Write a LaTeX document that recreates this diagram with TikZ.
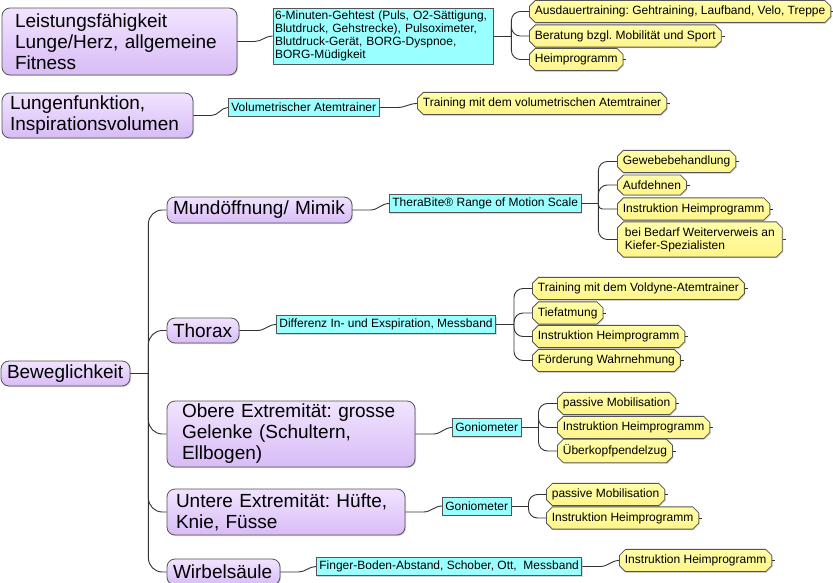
\documentclass[tikz,border=0pt]{standalone}
\usepackage{fontspec}
\setmainfont{Liberation Sans}
\frenchspacing
\usetikzlibrary{shapes.misc,shadows,calc}
\definecolor{pfillT}{HTML}{F1E4FF}
\definecolor{pfillB}{HTML}{D8BCF6}
\definecolor{cfill}{HTML}{99FFFF}
\definecolor{yfillT}{HTML}{FFFFA8}
\definecolor{yfillB}{HTML}{FFF48A}
\definecolor{edge}{HTML}{555555}
\definecolor{lnk}{HTML}{333333}
\begin{document}
\begin{tikzpicture}[x=1pt,y=-1pt,
  pbox/.style={draw=edge, rounded corners=8pt, top color=pfillT, bottom color=pfillB,
    line width=0.8pt, font=\fontsize{19}{21}\selectfont, align=left, inner ysep=2pt,
    drop shadow={shadow xshift=1pt,shadow yshift=-1pt,fill=black!40,opacity=0.4}},
  cbox/.style={draw=edge, fill=cfill, line width=0.8pt, font=\fontsize{12}{13}\selectfont,
    inner xsep=3pt, inner ysep=2pt, minimum height=18pt, anchor=west,
    drop shadow={shadow xshift=1pt,shadow yshift=-1pt,fill=black!40,opacity=0.4}},
  ybox/.style={draw=edge, chamfered rectangle, chamfered rectangle xsep=2.5pt,
    top color=yfillT, bottom color=yfillB, line width=0.8pt,
    font=\fontsize{12}{13}\selectfont, inner xsep=3pt, inner ysep=2pt,
    minimum height=17pt, anchor=west, align=left,
    drop shadow={shadow xshift=1pt,shadow yshift=-1pt,fill=black!40,opacity=0.4}},
  conn/.style={draw=lnk, line width=0.9pt},
  branch/.style={conn, rounded corners=9pt},
  trunk/.style={conn, rounded corners=14pt}]
\fill[white] (0,0) rectangle (833,583);
\clip (0,0) rectangle (833,583);
\useasboundingbox (0,0) rectangle (833,583);

% main topics
\node[pbox, text width=209pt, inner xsep=13pt, minimum height=67pt] (P1) at (119.5,41.5)
  {Leistungsfähigkeit\\Lunge/Herz, allgemeine\\Fitness};
\node[pbox, text width=175pt, inner xsep=8pt, minimum height=45pt] (P2) at (97.5,115.5)
  {Lungenfunktion,\\Inspirationsvolumen};
\node[pbox, text width=117pt, inner xsep=6pt, minimum height=25pt] (P3) at (65.5,373.5)
  {Beweglichkeit};
\node[pbox, text width=173pt, inner xsep=6pt, minimum height=26pt] (P4) at (259.5,210)
  {Mundöffnung/ Mimik};
\node[pbox, text width=60pt, inner xsep=6pt, minimum height=25pt] (P5) at (203,330.5)
  {Thorax};
\node[pbox, text width=218pt, inner xsep=15pt, minimum height=66pt] (P6) at (291,434)
  {Obere Extremität: grosse\\Gelenke (Schultern,\\Ellbogen)};
\node[pbox, text width=220pt, inner xsep=9pt, minimum height=46pt] (P7) at (286,512)
  {Untere Extremität: Hüfte,\\Knie, Füsse};
\node[pbox, text width=101pt, inner xsep=6pt, minimum height=26pt, inner ysep=1pt] (P8) at (223.5,572)
  {Wirbelsäule};

% measurements
\node[cbox, anchor=center, text width=216pt, inner xsep=2pt, align=left, minimum height=56pt] (C1) at (383,36)
  {6-Minuten-Gehtest (Puls, O2-Sättigung,\\Blutdruck, Gehstrecke), Pulsoximeter,\\Blutdruck-Gerät, BORG-Dyspnoe,\\BORG-Müdigkeit};
\node[cbox] (C2) at (228,107.5) {Volumetrischer Atemtrainer};
\node[cbox] (C3) at (389,203.5) {TheraBite® Range of Motion Scale};
\node[cbox] (C4) at (276,324.5) {Differenz In- und Exspiration, Messband};
\node[cbox] (C5) at (452,427.5) {Goniometer};
\node[cbox] (C6) at (442,506) {Goniometer};
\node[cbox] (C7) at (316,566.5) {Finger-Boden-Abstand, Schober, Ott,~ Messband};

% interventions
\node[ybox] (Y1a) at (529,11.5) {Ausdauertraining: Gehtraining, Laufband, Velo, Treppe};
\node[ybox] (Y1b) at (529,36) {Beratung bzgl. Mobilität und Sport};
\node[ybox] (Y1c) at (529,59.5) {Heimprogramm};
\node[ybox] (Y2) at (417,103.5) {Training mit dem volumetrischen Atemtrainer};
\node[ybox] (Y3a) at (617,161.5) {Gewebebehandlung};
\node[ybox] (Y3b) at (617,185) {Aufdehnen};
\node[ybox] (Y3c) at (617,209) {Instruktion Heimprogramm};
\node[ybox, minimum height=31pt, inner xsep=5pt] (Y3d) at (617,239.5) {bei Bedarf Weiterverweis an\\Kiefer-Spezialisten};
\node[ybox] (Y4a) at (532,288.5) {Training mit dem Voldyne-Atemtrainer};
\node[ybox] (Y4b) at (532,313) {Tiefatmung};
\node[ybox] (Y4c) at (532,336.5) {Instruktion Heimprogramm};
\node[ybox] (Y4d) at (532,360.5) {Förderung Wahrnehmung};
\node[ybox] (Y5a) at (557,403.5) {passive Mobilisation};
\node[ybox] (Y5b) at (557,427.5) {Instruktion Heimprogramm};
\node[ybox] (Y5c) at (557,451) {Überkopfpendelzug};
\node[ybox] (Y6a) at (546,494.5) {passive Mobilisation};
\node[ybox] (Y6b) at (546,518) {Instruktion Heimprogramm};
\node[ybox] (Y7) at (619,560.5) {Instruktion Heimprogramm};

% trunk points
\coordinate (T0) at ([xshift=18pt]P3.east);
\coordinate (T1) at ([xshift=18pt]C1.east);
\coordinate (T3) at ([xshift=17pt]C3.east);
\coordinate (T4) at ([xshift=18pt]C4.east);
\coordinate (T5) at ([xshift=17pt]C5.east);
\coordinate (T6) at ([xshift=17pt]C6.east);

% topic -> measurement (S curves)
\draw[conn] (P1.east) -- ++(17,0) to[out=0,in=180] (C1.west);
\draw[conn] (P2.east) -- ++(18,0) to[out=0,in=180] (C2.west);
\draw[conn] (P4.east) -- ++(18,0) to[out=0,in=180] (C3.west);
\draw[conn] (P5.east) -- ++(18,0) to[out=0,in=180] (C4.west);
\draw[conn] (P6.east) -- ++(18,0) to[out=0,in=180] (C5.west);
\draw[conn] (P7.east) -- ++(18,0) to[out=0,in=180] (C6.west);
\draw[conn] (P8.east) -- ++(18,0) to[out=0,in=180] (C7.west);
\draw[conn] (C2.east) -- ++(18,0) to[out=0,in=180] (Y2.west);
\draw[conn] (C7.east) -- ++(18,0) to[out=0,in=180] (Y7.west);

% Beweglichkeit trunk
\draw[conn] (P3.east) -- (T0);
\foreach \p in {P4,P5,P6,P7,P8} \draw[trunk] (T0) |- (\p.west);

% measurement -> interventions
\draw[conn] (C1.east) -- (T1);
\foreach \y in {Y1a,Y1b,Y1c} \draw[branch] (T1) |- (\y.west);
\draw[conn] (C3.east) -- (T3);
\foreach \y in {Y3a,Y3b,Y3d} \draw[branch] (T3) |- (\y.west);
\draw[conn, rounded corners=4pt] (T3) |- (Y3c.west);
\draw[conn] (C4.east) -- (T4);
\foreach \y in {Y4a,Y4b,Y4c,Y4d} \draw[branch] (T4) |- (\y.west);
\draw[conn] (C5.east) -- (T5);
\foreach \y in {Y5a,Y5b,Y5c} \draw[branch] (T5) |- (\y.west);
\draw[conn] (C6.east) -- (T6);
\foreach \y in {Y6a,Y6b} \draw[branch] (T6) |- (\y.west);

% collapse ticks
\foreach \y in {Y1a,Y1b,Y1c,Y2,Y3a,Y3b,Y3c,Y3d,Y4a,Y4b,Y4c,Y4d,Y5a,Y5b,Y5c,Y6a,Y6b,Y7}
  \draw[conn, line width=0.7pt] (\y.east) -- ++(3,0);
\end{tikzpicture}
\end{document}
